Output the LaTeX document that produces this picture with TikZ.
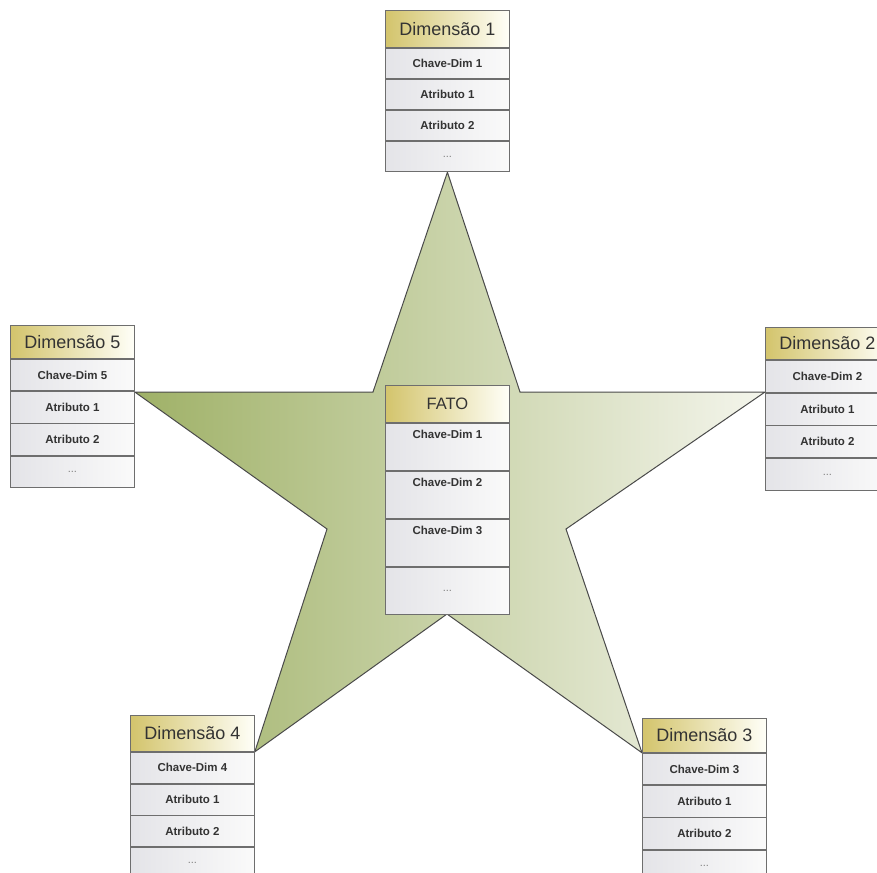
\documentclass[tikz,border=0pt]{standalone}
\usepackage{fontspec}
\setmainfont{Liberation Sans}
\usetikzlibrary{backgrounds}

\definecolor{edge}{HTML}{6E6E6E}
\definecolor{ink}{HTML}{333333}
\definecolor{gold}{HTML}{D3C46C}
\definecolor{goldend}{HTML}{FFFFF8}
\definecolor{rowl}{HTML}{E4E4E8}
\definecolor{rowr}{HTML}{FAFAFA}
\definecolor{starl}{HTML}{9FB167}
\definecolor{starr}{HTML}{F4F5EC}
\definecolor{starline}{HTML}{4A4A4A}

\tikzset{
  tabcell/.style={draw=edge, line width=0.8pt, rectangle, minimum width=124pt,
    inner sep=0pt, text=ink, left color=rowl, right color=rowr},
  hdr/.style={tabcell, left color=gold, right color=goldend,
    font=\fontsize{18}{18}\selectfont},
  attr/.style={tabcell, font=\bfseries\fontsize{11.5}{12}\selectfont},
  fattr/.style={attr, inner ysep=5pt, text height=10pt, text depth=27.3pt},
  dotrow/.style={tabcell, text=gray, font=\fontsize{11}{11}\selectfont},
  starshape/.style={draw=starline, line width=1pt, line join=miter,
    left color=starl, right color=starr},
}

% dimension table: name, x, y, header height, row height, title, three rows
\newcommand\dimtable[9]{%
  \node[hdr, minimum height=#4pt, anchor=north west] (#1-h) at (#2,#3) {#6};
  \node[attr, minimum height=#5pt, anchor=north] (#1-1) at (#1-h.south) {#7};
  \node[attr, minimum height=#5pt, anchor=north] (#1-2) at (#1-1.south) {#8};
  \node[attr, minimum height=#5pt, anchor=north] (#1-3) at (#1-2.south) {#9};
  \node[dotrow, minimum height=#5pt, anchor=north] (#1-4) at (#1-3.south) {...};
}

\begin{document}
\begin{tikzpicture}[x=1pt, y=-1pt]
  \clip (0,0) rectangle (877,872);

  % fact table
  \node[hdr, minimum height=37pt, anchor=north west,
        font=\fontsize{16.5}{16.5}\selectfont] (f-h) at (385,385) {FATO};
  \node[fattr, anchor=north] (f-1) at (f-h.south) {Chave-Dim 1};
  \node[fattr, anchor=north] (f-2) at (f-1.south) {Chave-Dim 2};
  \node[fattr, anchor=north] (f-3) at (f-2.south) {Chave-Dim 3};
  \node[dotrow, minimum height=47.3pt, anchor=north] (f-4) at (f-3.south) {...};

  % dimension tables
  \dimtable{d1}{385}{10}{37}{30.3}{Dimensão 1}{Chave-Dim 1}{Atributo 1}{Atributo 2}
  \dimtable{d2}{765}{327}{32}{32}{Dimensão 2}{Chave-Dim 2}{Atributo 1}{Atributo 2}
  \dimtable{d3}{642}{718}{34}{31.5}{Dimensão 3}{Chave-Dim 3}{Atributo 1}{Atributo 2}
  \dimtable{d4}{130}{715}{36}{31}{Dimensão 4}{Chave-Dim 4}{Atributo 1}{Atributo 2}
  \dimtable{d5}{10}{325}{33}{31.5}{Dimensão 5}{Chave-Dim 5}{Atributo 1}{Atributo 2}

  % star joining the fact table to its dimensions
  \begin{scope}[on background layer]
    \coordinate (in-ur) at (520,392);
    \coordinate (in-r)  at (566,529);
    \coordinate (in-b)  at (447,614);
    \coordinate (in-l)  at (327,529);
    \coordinate (in-ul) at (373,392);
    \path[starshape] (d1-4.south) -- (in-ur) -- (d2-h.south west |- in-ur)
      -- (in-r) -- (d3-h.south west) -- (in-b) -- (d4-h.south east)
      -- (in-l) -- (d5-h.south east |- in-ul) -- (in-ul) -- cycle;
  \end{scope}
\end{tikzpicture}
\end{document}
